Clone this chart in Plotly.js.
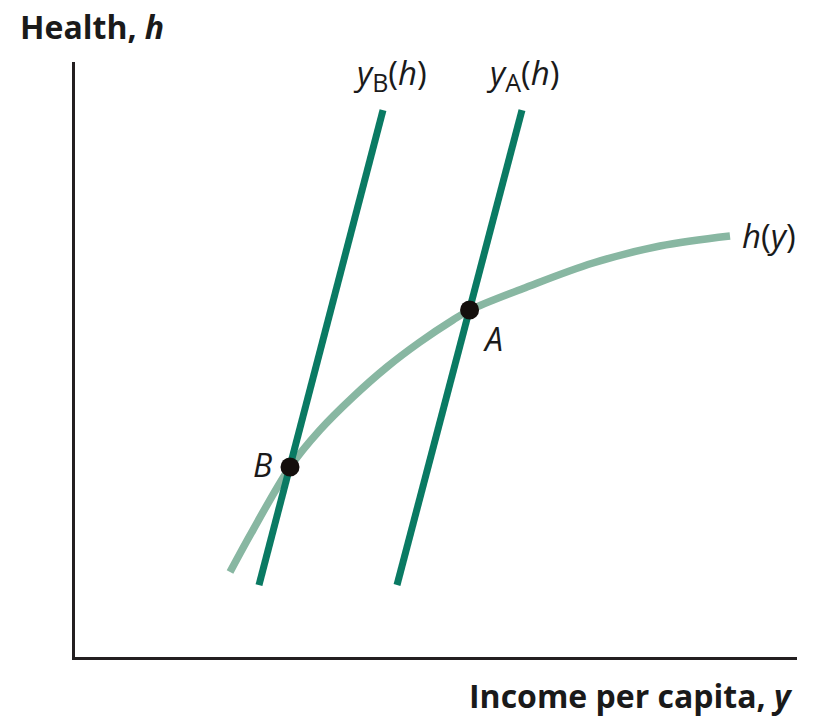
<!DOCTYPE html>
<html>
<head>
<meta charset="utf-8">
<script src="https://cdn.plot.ly/plotly-3.0.1.min.js"></script>
<style>html,body{margin:0;padding:0;background:#fff;}#chart{width:817px;height:717px;}</style>
</head>
<body>
<div id="chart"></div>
<script>
// Curve h(y): income vs health (arbitrary units)
const hCurveX = [2.147, 2.465, 2.978, 3.393, 3.850, 4.321, 4.778, 5.235, 5.471, 6.260, 7.175, 8.102, 9.072];
const hCurveY = [1.429, 2.134, 3.193, 3.815, 4.370, 4.874, 5.294, 5.664, 5.832, 6.218, 6.622, 6.908, 7.076];
// Line y_B(h)
const yBX = [2.548, 4.266];
const yBY = [1.210, 9.193];
// Line y_A(h)
const yAX = [4.460, 6.191];
const yAY = [1.210, 9.193];
// Equilibrium points
const pointNames = ['B', 'A'];
const pointX = [2.978, 5.465];
const pointY = [3.193, 5.832];

const FONT = '"Open Sans", "Noto Sans", sans-serif';
const dark = '#0a7a63';
const light = '#88b7a2';

const traces = [
  {x: hCurveX, y: hCurveY, mode: 'lines', line: {color: light, width: 7.5, shape: 'spline', smoothing: 1}, hoverinfo: 'skip'},
  {x: yBX, y: yBY, mode: 'lines', line: {color: dark, width: 7}, hoverinfo: 'skip'},
  {x: yAX, y: yAY, mode: 'lines', line: {color: dark, width: 7}, hoverinfo: 'skip'},
  {x: pointX, y: pointY, text: pointNames, mode: 'markers', marker: {color: '#140f0c', size: 19}, hoverinfo: 'skip', cliponaxis: false}
];

const ann = (x, y, text, size, xanchor, ref) => ({
  x: x, y: y, xref: ref || 'x', yref: ref ? 'paper' : 'y', text: text, showarrow: false,
  xanchor: xanchor || 'center', yanchor: 'middle',
  font: {family: FONT, size: size, color: '#1a1a1a'}
});

const sub = s => '<sub><span style="font-size:25px">' + s + '</span></sub>';

const layout = {
  width: 817, height: 717,
  margin: {l: 75, r: 20, t: 62, b: 60},
  paper_bgcolor: '#fff', plot_bgcolor: '#fff',
  showlegend: false,
  xaxis: {range: [0, 10], showgrid: false, zeroline: false, showticklabels: false, ticks: '',
          showline: true, linewidth: 3, linecolor: '#231f20', fixedrange: true},
  yaxis: {range: [0, 10], showgrid: false, zeroline: false, showticklabels: false, ticks: '',
          showline: true, linewidth: 3, linecolor: '#231f20', fixedrange: true},
  annotations: [
    ann(-0.0789, 1.0605, '<b>Health, <i>h</i></b>', 32, 'left', 'paper'),
    ann(0.9972, -0.0639, '<b>Income per capita, <i>y</i></b>', 32, 'right', 'paper'),
    ann(4.363, 9.782, '<i>y</i>' + sub('B') + '(<i>h</i>)', 33),
    ann(6.205, 9.782, '<i>y</i>' + sub('A') + '(<i>h</i>)', 33),
    ann(9.612, 7.076, '<i>h</i>(<i>y</i>)', 33),
    ann(5.789, 5.361, '<i>A</i>', 32),
    ann(2.590, 3.227, '<i>B</i>', 32)
  ]
};

Plotly.newPlot('chart', traces, layout, {displayModeBar: false, staticPlot: true});
</script>
</body>
</html>
